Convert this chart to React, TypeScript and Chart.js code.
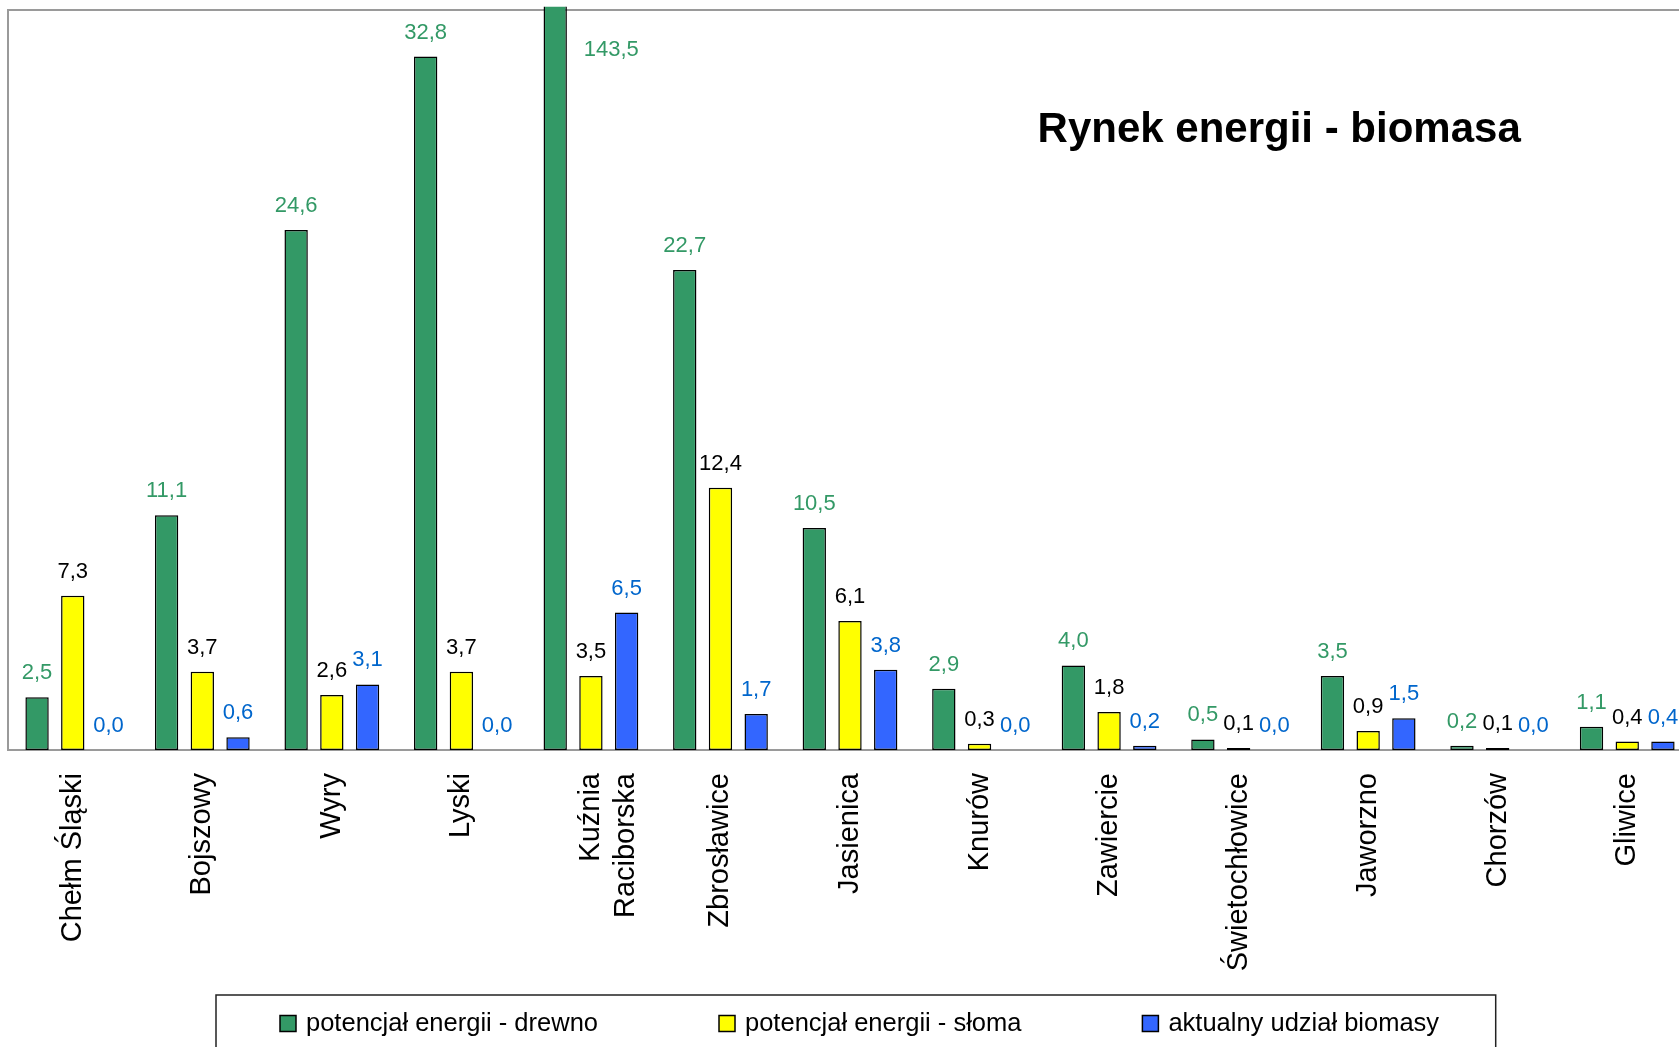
import React, { useEffect, useRef } from "react";
import { Chart, registerables } from "chart.js";

Chart.register(...registerables);

// ---- data ----
const categories: (string | string[])[] = [
  "Chełm Śląski",
  "Bojszowy",
  "Wyry",
  "Lyski",
  ["Kuźnia", "Raciborska"],
  "Zbrosławice",
  "Jasienica",
  "Knurów",
  "Zawiercie",
  "Świetochłowice",
  "Jaworzno",
  "Chorzów",
  "Gliwice",
];
const seriesNames = [
  "potencjał energii - drewno",
  "potencjał energii - słoma",
  "aktualny udział biomasy",
];
const drewno = [2.5, 11.1, 24.6, 32.8, 143.5, 22.7, 10.5, 2.9, 4.0, 0.5, 3.5, 0.2, 1.1];
const sloma = [7.3, 3.7, 2.6, 3.7, 3.5, 12.4, 6.1, 0.3, 1.8, 0.1, 0.9, 0.1, 0.4];
const biomasa = [0.0, 0.6, 3.1, 0.0, 6.5, 1.7, 3.8, 0.0, 0.2, 0.0, 1.5, 0.0, 0.4];
const yMin = 0;
const yMax = 35;
const chartTitle = "Rynek energii - biomasa";

// ---- styles ----
const FONT = '"Liberation Sans", Arial, sans-serif';
const barColors = ["#339966", "#FFFF00", "#3366FF"];
const labelColors = ["#339966", "#000000", "#0066CC"];

const fmt = (v: number) => v.toFixed(1).replace(".", ",");

const framePlugin = {
  id: "frame",
  beforeDatasetsDraw(chart: any) {
    const { ctx, chartArea: a } = chart;
    ctx.save();
    ctx.strokeStyle = "#9a9a9a";
    ctx.lineWidth = 2;
    ctx.strokeRect(a.left, a.top, a.right - a.left, a.bottom - a.top);
    ctx.restore();
  },
};

const valueLabelPlugin = {
  id: "valueLabels",
  afterDatasetsDraw(chart: any) {
    const { ctx, chartArea } = chart;
    const max = chart.scales.y.max;
    ctx.save();
    ctx.font = `22px ${FONT}`;
    ctx.textAlign = "center";
    chart.data.datasets.forEach((ds: any, i: number) => {
      const meta = chart.getDatasetMeta(i);
      meta.data.forEach((el: any, j: number) => {
        const v = ds.data[j] as number;
        ctx.fillStyle = labelColors[i];
        if (v > max) {
          ctx.textBaseline = "middle";
          ctx.fillText(fmt(v), el.x + 56, chartArea.top + 40);
        } else {
          ctx.textBaseline = "alphabetic";
          ctx.fillText(fmt(v), el.x, el.y - 18);
        }
      });
    });
    ctx.restore();
  },
};

const titlePlugin = {
  id: "innerTitle",
  afterDraw(chart: any) {
    const { ctx } = chart;
    ctx.save();
    ctx.font = `bold 42px ${FONT}`;
    ctx.fillStyle = "#000";
    ctx.textAlign = "left";
    ctx.textBaseline = "alphabetic";
    ctx.fillText(chartTitle, 1037.6, 141.7);
    ctx.restore();
  },
};

// legend drawn below the axis labels, inside a framed box
const boxLegendPlugin = {
  id: "boxLegend",
  afterDraw(chart: any) {
    const { ctx } = chart;
    const boxLeft = 216;
    const boxRight = 1495.7;
    const boxTop = 995;
    const startX = 280;
    const midY = 1023.5;
    const sw = 16;
    const textGap = 10;
    const itemGap = 121;
    ctx.save();
    ctx.strokeStyle = "#222";
    ctx.lineWidth = 1.5;
    ctx.strokeRect(boxLeft, boxTop, boxRight - boxLeft, 200);
    ctx.font = `25.5px ${FONT}`;
    ctx.textAlign = "left";
    ctx.textBaseline = "middle";
    let x = startX;
    chart.data.datasets.forEach((ds: any) => {
      ctx.fillStyle = ds.backgroundColor;
      ctx.fillRect(x, midY - sw / 2, sw, sw);
      ctx.strokeStyle = "#000";
      ctx.lineWidth = 1.5;
      ctx.strokeRect(x, midY - sw / 2, sw, sw);
      ctx.fillStyle = "#000";
      const tx = x + sw + textGap;
      ctx.fillText(ds.label, tx, midY);
      x = tx + ctx.measureText(ds.label).width + itemGap;
    });
    ctx.restore();
  },
};

export default function App() {
  const ref = useRef<HTMLCanvasElement | null>(null);

  useEffect(() => {
    document.body.style.overflow = "hidden";
    const canvas = ref.current;
    if (!canvas) return;
    const series = [drewno, sloma, biomasa];
    const chart = new Chart(canvas, {
      type: "bar",
      data: {
        labels: categories as any,
        datasets: series.map((d, i) => ({
          label: seriesNames[i],
          data: d,
          backgroundColor: barColors[i],
          borderColor: "#000",
          borderWidth: 1.5,
          borderSkipped: false,
          categoryPercentage: 0.827,
          barPercentage: 0.654,
          clip: { left: false, top: 3.3, right: false, bottom: false } as any,
        })),
      },
      options: {
        responsive: false,
        animation: false,
        devicePixelRatio: 1,
        layout: { padding: { top: 10, left: 8, right: 0, bottom: 0 } },
        plugins: {
          legend: { display: false },
          tooltip: { enabled: false },
          title: { display: false },
        },
        scales: {
          x: {
            grid: { display: false, drawTicks: false },
            border: { display: false },
            ticks: {
              font: { size: 29, family: FONT },
              color: "#000",
              minRotation: 90,
              maxRotation: 90,
              padding: 23,
              autoSkip: false,
            },
            afterFit: (s: any) => {
              s.height = 297;
            },
          },
          y: {
            position: "right",
            min: yMin,
            max: yMax,
            grid: { display: false, drawTicks: false },
            border: { display: false },
            ticks: { display: false },
            afterFit: (s: any) => {
              s.width = 18;
            },
          },
        },
      },
      plugins: [framePlugin, valueLabelPlugin, titlePlugin, boxLegendPlugin],
    });
    return () => chart.destroy();
  }, []);

  return (
    <div style={{ position: "absolute", left: 0, top: 0, width: 1710, height: 1047, overflow: "hidden" }}>
      <canvas ref={ref} width={1710} height={1047} style={{ display: "block", width: 1710, height: 1047 }} />
    </div>
  );
}
